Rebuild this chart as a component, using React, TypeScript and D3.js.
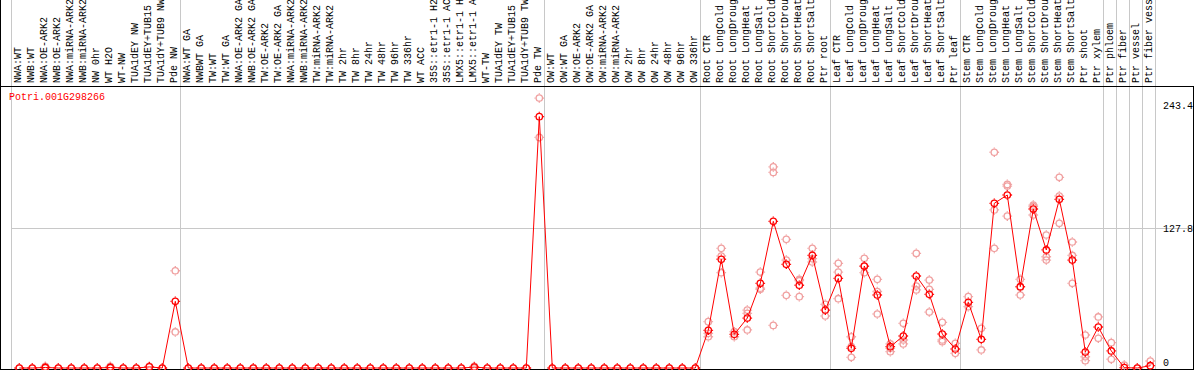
import React from "react";
import * as d3 from "d3";

// ---- categories (per group) ----
const group1 = ["NWA:WT","NWB:WT","NWA:OE-ARK2","NWB:OE-ARK2","NWA:miRNA-ARK2","NWB:miRNA-ARK2","NW 0hr","WT H2O","WT-NW","TUA1dEY NW","TUA1dEY+TUB15 NW","TUA1dY+TUB9 NW","Pde NW"];
const group2 = ["NWA:WT GA","NWBWT GA","TW:WT","TW:WT GA","NWA:OE-ARK2 GA","NWB:OE-ARK2 GA","TW:OE-ARK2","TW:OE-ARK2 GA","NWA:miRNA-ARK2 GA","NWB:miRNA-ARK2 GA","TW:miRNA-ARK2","TW:miRNA-ARK2 GA","TW 2hr","TW 8hr","TW 24hr","TW 48hr","TW 96hr","TW 336hr","WT ACC","35S::etr1-1 H2O","35S::etr1-1 ACC","LMX5::etr1-1 H2O","LMX5::etr1-1 ACC","WT-TW","TUA1dEY TW","TUA1dEY+TUB15 TW","TUA1dY+TUB9 TW","Pde TW"];
const group3 = ["OW:WT","OW:WT GA","OW:OE-ARK2","OW:OE-ARK2 GA","OW:miRNA-ARK2","OW:miRNA-ARK2 GA","OW 2hr","OW 8hr","OW 24hr","OW 48hr","OW 96hr","OW 336hr"];
const group4 = ["Root CTR","Root LongCold","Root LongDrought","Root LongHeat","Root LongSalt","Root ShortCold","Root ShortDrought","Root ShortHeat","Root ShortSalt","Ptr root"];
const group5 = ["Leaf CTR","Leaf LongCold","Leaf LongDrought","Leaf LongHeat","Leaf LongSalt","Leaf ShortCold","Leaf ShortDrought","Leaf ShortHeat","Leaf ShortSalt","Ptr leaf"];
const group6 = ["Stem CTR","Stem LongCold","Stem LongDrought","Stem LongHeat","Stem LongSalt","Stem ShortCold","Stem ShortDrought","Stem ShortHeat","Stem ShortSalt","Ptr shoot","Ptr xylem"];
const group7a = ["Ptr phloem"];
const group7b = ["Ptr fiber"];
const group7c = ["Ptr vessel"];
const group7d = ["Ptr fiber vessel"];

// ---- mean values ----
const mean1 = [0,0,0.5,0,0,0,0,0.5,0,0,1,0,61];
const mean2 = [0,0,0,0,0,0,0,0,0,0,0,0,0,0,0,0,0,0,0,0,0,0,0.8,0,0,0,0,230];
const mean3 = [0,0,0,0,0,0,0,0,0,0,0,0];
const mean4 = [34.5,99.5,30.8,45.7,77.5,134.2,94.9,75.7,103.1,53];
const mean5 = [82,18,93.3,66.8,19.5,29.3,84.2,67.4,31.1,17.4];
const mean6 = [60.1,26.2,150.7,158.3,74.4,145.5,108,154.3,98.8,14.6,37.5];
const mean7 = [15.6,0.3,0,2.1];

// ---- replicate values ----
const reps1 = [[0],[0],[1.5,0],[0],[0],[0],[0],[1.5,0],[0],[0],[1.5],[0],[33,89]];
const reps2 = [[0],[0],[0],[0],[0],[0],[0],[0],[0],[0],[0],[0],[0],[0],[0],[0],[0],[0],[0],[0],[0],[0],[1.5,0],[0],[0],[0],[0],[247,211]];
const reps3 = [[0],[0],[0],[0],[0],[0],[0],[0],[0],[0],[0],[0]];
const reps4 = [[42.4,31.7,28.6],[109.5,102.5,87.2],[33.2,28.6],[53,50,34.8],[87.8,72,73],[184,179,39],[117.7,98.8,66.5],[81.1,65.3,79.9],[109.5,100,97],[58.3,47.6]];
const reps5 = [[95.8,87.8,63.4],[28.6,19.5,9.8],[100.4,87.2,93],[81.1,49.4,70],[22,14.9,18],[40.9,22,25.6],[104.9,75,71.4],[80.5,72,51.2],[41.8,25.6,24.1],[22.6,13.4]];
const reps6 = [[65.3,56.1],[36.3,16.5],[197.4,144.6,109.5],[168,166.5,139],[81.1,66.8,74],[149.1,147.6,140],[121.7,101.8,98.8],[174.5,157.4,132.4],[115.3,77.5,103],[30.2,10.3,6.7],[46.7,27.2]];
const reps7 = [[23.2,8],[2.7],[0],[6.4]];

const yTicks = [0, 127.8, 243.4];
const title = "Potri.001G298266";

const groups = [group1, group2, group3, group4, group5, group6, group7a, group7b, group7c, group7d];
const categories = groups.flat();
const means = [...mean1, ...mean2, ...mean3, ...mean4, ...mean5, ...mean6, ...mean7];
const reps = [...reps1, ...reps2, ...reps3, ...reps4, ...reps5, ...reps6, ...reps7];

const W = 1194, H = 370;
const FONT = "'Liberation Mono', 'DejaVu Sans Mono', monospace";

export default function App() {
  const x = d3.scaleBand<string>().domain(categories).range([11, 1155]);
  const y = d3.scaleLinear().domain([0, 243.4]).range([368, 102]);
  const cx = (c: string) => (x(c) as number) + 8.3;
  const line = d3.line<number>().x((_, i) => cx(categories[i])).y((d) => y(d));
  const sepXs = groups.map((g) => x(g[0]) as number).concat([1155]);
  const tickDy: Record<string, number> = { "0": -2, "127.8": 4, "243.4": 7 };

  const marker = (px: number, py: number, color: string, key: string) => (
    <g key={key} stroke={color} strokeWidth={1.3} fill="none">
      <circle cx={px} cy={py} r={3.2} />
      <line x1={px} x2={px} y1={py - 4.8} y2={py - 3.8} />
      <line x1={px} x2={px} y1={py + 3.8} y2={py + 4.8} />
      <line x1={px - 4.8} x2={px - 3.8} y1={py} y2={py} />
      <line x1={px + 3.8} x2={px + 4.8} y1={py} y2={py} />
    </g>
  );

  return (
    <div style={{ position: "absolute", left: 0, top: 0 }}>
      <svg width={W} height={H} style={{ display: "block", background: "#fff" }}>
        {/* separators */}
        {sepXs.map((sx, i) => (
          <line key={"s" + i} x1={sx + 0.5} x2={sx + 0.5} y1={0} y2={369} stroke="#c8c8c8" strokeWidth={1} />
        ))}
        {/* horizontal grid */}
        <line x1={11} x2={1193} y1={Math.round(y(127.8)) + 0.5} y2={Math.round(y(127.8)) + 0.5} stroke="#c8c8c8" strokeWidth={1} />
        {/* frame */}
        <line x1={0} x2={1194} y1={86.5} y2={86.5} stroke="#000" strokeWidth={1} />
        <line x1={0} x2={1194} y1={369.5} y2={369.5} stroke="#000" strokeWidth={1} />
        <line x1={0.5} x2={0.5} y1={0} y2={370} stroke="#000" strokeWidth={1} />
        <line x1={1193.5} x2={1193.5} y1={86} y2={370} stroke="#000" strokeWidth={1} />
        {/* labels */}
        {categories.map((c) => (
          <text key={"l" + c + cx(c)} transform={`translate(${cx(c) + 2},83) rotate(-90)`} fontFamily={FONT} fontSize={10} fill="#000">
            {c.slice(0, 14)}
          </text>
        ))}
        <text x={9} y={100} fontFamily={FONT} fontSize={10} fill="#ff0000">{title}</text>
        {yTicks.map((t) => (
          <text key={"t" + t} x={1163} y={y(t) + tickDy[String(t)]} fontFamily={FONT} fontSize={10} fill="#000">{String(t)}</text>
        ))}
        {/* replicates */}
        {reps.map((rs, i) => rs.map((v, j) => marker(cx(categories[i]), y(v), "#f0a0a0", `r${i}-${j}`)))}
        {/* mean line */}
        <path d={line(means) as string} fill="none" stroke="#ff0000" strokeWidth={1} />
        {means.map((v, i) => marker(cx(categories[i]), y(v), "#ff0000", `m${i}`))}
      </svg>
    </div>
  );
}
